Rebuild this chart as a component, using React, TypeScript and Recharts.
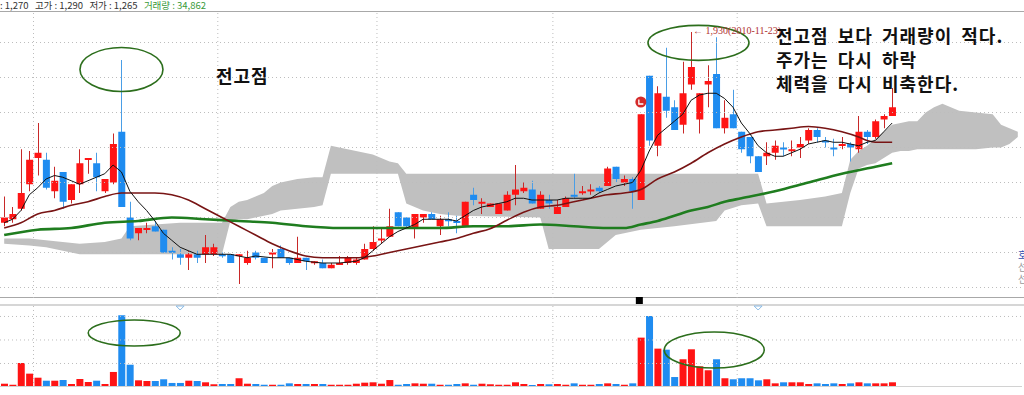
import React from "react";
import {
  ComposedChart,
  Bar,
  Line,
  Area,
  XAxis,
  YAxis,
  ReferenceLine,
  ReferenceDot,
  Cell,
} from "recharts";

// daily candles, index 0..106
const opens = [
  1385, 1395, 1425, 1495, 1570, 1565, 1475, 1530, 1450, 1495, 1565, 1555, 1475, 1500, 1645, 1400, 1355, 1365, 1375, 1365,
  1305, 1295, 1285, 1295, 1295, 1295, 1295, 1295, 1290, 1270, 1300, 1285, 1295, 1310, 1285, 1270, 1285, 1270, 1270, 1255,
  1265, 1270, 1270, 1280, 1310, 1335, 1345, 1415, 1400, 1370, 1400, 1410, 1375, 1395, 1390, 1375, 1465, 1440, 1430, 1410,
  1420, 1465, 1475, 1480, 1425, 1450, 1410, 1430, 1465, 1470, 1475, 1485, 1490, 1545, 1500, 1510, 1450, 1805, 1605, 1745,
  1715, 1665, 1780, 1680, 1780, 1810, 1655, 1695, 1645, 1630, 1575, 1575, 1585, 1600, 1590, 1600, 1620, 1650, 1620, 1600,
  1605, 1610, 1595, 1645, 1630, 1680, 1690,
];
const highs = [
  1460, 1430, 1595, 1590, 1670, 1585, 1545, 1530, 1495, 1595, 1570, 1585, 1510, 1640, 1850, 1445, 1370, 1385, 1390, 1365,
  1315, 1310, 1305, 1305, 1350, 1325, 1300, 1295, 1295, 1305, 1305, 1285, 1310, 1320, 1285, 1345, 1285, 1275, 1280, 1270,
  1290, 1290, 1285, 1325, 1375, 1370, 1425, 1415, 1400, 1410, 1410, 1415, 1405, 1415, 1405, 1445, 1485, 1455, 1440, 1440,
  1475, 1550, 1500, 1505, 1475, 1465, 1450, 1460, 1525, 1490, 1495, 1490, 1545, 1545, 1520, 1515, 1695, 1805, 1775, 1885,
  1735, 1845, 1930, 1755, 1835, 1915, 1735, 1765, 1645, 1630, 1575, 1615, 1620, 1615, 1620, 1630, 1655, 1655, 1630, 1625,
  1630, 1615, 1690, 1650, 1680, 1695, 1770,
];
const lows = [
  1375, 1385, 1420, 1475, 1520, 1480, 1455, 1425, 1440, 1470, 1525, 1475, 1470, 1495, 1430, 1335, 1335, 1355, 1360, 1300,
  1280, 1265, 1250, 1270, 1270, 1290, 1285, 1270, 1210, 1265, 1280, 1270, 1255, 1285, 1265, 1270, 1250, 1265, 1255, 1255,
  1265, 1265, 1265, 1280, 1305, 1325, 1345, 1375, 1370, 1340, 1385, 1395, 1350, 1375, 1355, 1375, 1435, 1410, 1430, 1410,
  1420, 1435, 1470, 1440, 1425, 1425, 1410, 1430, 1455, 1465, 1465, 1470, 1490, 1500, 1490, 1425, 1450, 1605, 1575, 1685,
  1650, 1640, 1765, 1640, 1715, 1655, 1640, 1655, 1585, 1555, 1530, 1550, 1565, 1575, 1575, 1570, 1610, 1615, 1600, 1575,
  1595, 1560, 1585, 1610, 1625, 1655, 1690,
];
const closes = [
  1400, 1410, 1470, 1565, 1585, 1485, 1505, 1445, 1495, 1555, 1570, 1515, 1510, 1610, 1430, 1340, 1370, 1370, 1360, 1300,
  1300, 1285, 1295, 1285, 1315, 1315, 1290, 1270, 1295, 1285, 1285, 1270, 1300, 1285, 1270, 1285, 1275, 1275, 1255, 1265,
  1270, 1285, 1280, 1310, 1330, 1340, 1375, 1375, 1375, 1410, 1410, 1395, 1395, 1390, 1385, 1445, 1450, 1445, 1440, 1440,
  1465, 1480, 1485, 1440, 1465, 1440, 1430, 1455, 1460, 1475, 1480, 1475, 1540, 1510, 1510, 1475, 1695, 1620, 1755, 1705,
  1650, 1755, 1830, 1755, 1790, 1655, 1685, 1655, 1595, 1575, 1530, 1585, 1605, 1595, 1595, 1610, 1650, 1630, 1615, 1595,
  1610, 1600, 1645, 1630, 1675, 1690, 1715,
];
const volumes = [
  35000, 24000, 255000, 142000, 99000, 67000, 67000, 74000, 32000, 85000, 53000, 67000, 32000, 160000, 763000, 237000,
  71000, 64000, 64000, 82000, 43000, 43000, 67000, 64000, 50000, 29000, 32000, 32000, 93000, 35000, 32000, 24000, 24000,
  24000, 39000, 32000, 32000, 32000, 32000, 24000, 24000, 24000, 35000, 46000, 50000, 35000, 74000, 24000, 32000, 39000,
  35000, 35000, 24000, 24000, 32000, 39000, 24000, 35000, 29000, 24000, 24000, 50000, 32000, 21000, 32000, 29000, 32000,
  24000, 39000, 24000, 24000, 32000, 39000, 32000, 24000, 39000, 525000, 755000, 408000, 397000, 106000, 295000, 401000,
  220000, 178000, 295000, 93000, 82000, 93000, 93000, 71000, 82000, 39000, 50000, 50000, 50000, 32000, 39000, 32000, 39000,
  32000, 39000, 50000, 39000, 39000, 39000, 50000,
];

// moving averages: [index, price]
const ma5Points = [
  [0, 1385], [1, 1395], [2, 1420], [3, 1465], [4, 1485], [5, 1510], [6, 1520], [7, 1515], [8, 1505], [9, 1495],
  [10, 1505], [11, 1515], [12, 1525], [13, 1550], [14, 1530], [15, 1475], [16, 1445], [17, 1420], [18, 1390],
  [19, 1355], [20, 1335], [21, 1315], [22, 1305], [23, 1295], [24, 1295], [25, 1295], [26, 1295], [27, 1295],
  [28, 1290], [29, 1285], [30, 1290], [32, 1285], [34, 1285], [36, 1275], [38, 1270], [40, 1270], [42, 1275],
  [43, 1285], [44, 1305], [45, 1325], [46, 1345], [47, 1360], [48, 1370], [49, 1380], [50, 1395], [51, 1395],
  [52, 1395], [53, 1395], [54, 1390], [55, 1405], [56, 1420], [57, 1430], [58, 1435], [59, 1440], [60, 1445],
  [61, 1455], [62, 1455], [63, 1450], [64, 1450], [65, 1450], [66, 1450], [67, 1455], [68, 1455], [69, 1455],
  [70, 1455], [71, 1470], [72, 1480], [73, 1490], [74, 1495], [75, 1500], [76, 1535], [77, 1590], [78, 1635],
  [79, 1655], [80, 1675], [81, 1695], [82, 1735], [83, 1750], [84, 1755], [85, 1755], [86, 1740], [87, 1715],
  [88, 1670], [89, 1640], [90, 1605], [91, 1585], [92, 1575], [93, 1575], [94, 1585], [95, 1595], [96, 1610],
  [97, 1615], [98, 1620], [99, 1615], [100, 1615], [101, 1610], [102, 1605], [103, 1615], [104, 1620], [105, 1645],
  [106, 1670],
];
const ma20Points = [
  [0, 1370], [2, 1385], [4, 1410], [6, 1420], [8, 1435], [10, 1445], [12, 1460], [14, 1470], [16, 1470], [18, 1470],
  [20, 1465], [22, 1450], [24, 1425], [26, 1400], [28, 1375], [30, 1350], [32, 1325], [34, 1305], [36, 1290],
  [38, 1285], [40, 1285], [42, 1285], [44, 1290], [46, 1300], [48, 1310], [50, 1320], [52, 1330], [54, 1340],
  [56, 1355], [58, 1368], [60, 1392], [62, 1415], [64, 1430], [66, 1435], [68, 1445], [70, 1455], [72, 1465],
  [74, 1470], [76, 1480], [78, 1510], [80, 1530], [82, 1555], [84, 1585], [86, 1610], [88, 1630], [90, 1645],
  [92, 1650], [94, 1655], [96, 1660], [98, 1655], [100, 1645], [102, 1630], [103, 1620], [104, 1615], [106, 1615],
];
const ma60Points = [
  [0, 1350], [4, 1365], [8, 1370], [12, 1385], [16, 1390], [20, 1400], [24, 1395], [28, 1390], [32, 1385], [36, 1375],
  [40, 1370], [44, 1370], [48, 1370], [52, 1370], [56, 1375], [60, 1375], [64, 1380], [68, 1375], [72, 1370],
  [74, 1370], [76, 1380], [78, 1390], [80, 1405], [82, 1420], [84, 1430], [86, 1445], [88, 1455], [92, 1475],
  [96, 1500], [100, 1525], [104, 1545], [106, 1555],
];
// ichimoku cloud: [index, upper, lower]
const cloudPoints = [
  [0, 1340, 1325], [3, 1340, 1320], [5, 1335, 1315], [7, 1330, 1305], [9, 1325, 1295], [12, 1330, 1295],
  [14, 1340, 1295], [15, 1375, 1295], [18, 1380, 1295], [21, 1385, 1295], [26, 1385, 1295], [27, 1430, 1390],
  [28, 1445, 1395], [29, 1450, 1395], [30, 1460, 1400], [31, 1470, 1405], [32, 1490, 1410], [33, 1500, 1420],
  [35, 1510, 1425], [37, 1515, 1430], [38, 1515, 1435], [39, 1605, 1525], [40, 1600, 1525], [42, 1590, 1525],
  [44, 1580, 1525], [46, 1560, 1525], [47, 1555, 1525], [48, 1525, 1440], [49, 1525, 1430], [50, 1525, 1420],
  [52, 1525, 1410], [54, 1525, 1405], [64, 1525, 1400], [65, 1525, 1310], [71, 1525, 1310], [72, 1525, 1330],
  [73, 1525, 1350], [74, 1525, 1355], [76, 1525, 1365], [80, 1525, 1375], [85, 1525, 1390], [86, 1525, 1420],
  [88, 1525, 1435], [90, 1525, 1440], [91, 1440, 1375], [95, 1450, 1375], [98, 1460, 1375], [100, 1470, 1375],
  [101, 1565, 1470], [102, 1590, 1540], [103, 1605, 1550], [104, 1625, 1555], [105, 1645, 1570], [106, 1665, 1585],
  [107, 1670, 1590], [108, 1675, 1590], [109, 1675, 1595], [110, 1700, 1595], [111, 1715, 1595], [112, 1725, 1595],
  [113, 1715, 1595], [114, 1705, 1595], [116, 1700, 1595], [118, 1695, 1600], [119, 1665, 1600], [120, 1655, 1610],
  [121, 1645, 1630],
];

const priceTicks = [1200, 1300, 1400, 1500, 1600, 1700, 1800, 1900];
const volumeTicks = [250000, 500000, 750000];
// last trading day of each month (grid line drawn after it)
const monthEnds = [3, 25, 44, 65, 87];
const slotCount = 122;

const UP = "#ff1414";
const DOWN = "#1f8cf0";
const UP_WICK = "#c82828";
const DOWN_WICK = "#4a9ee6";
const GRID = "#bdbdbd";
const ELLIPSE = "#2c6e1c";

const toMap = (pts: number[][]) => new Map(pts.map((p) => [p[0], p[1]]));
const ma5Map = toMap(ma5Points);
const ma20Map = toMap(ma20Points);
const ma60Map = toMap(ma60Points);
const cloudMap = new Map(cloudPoints.map((p) => [p[0], [p[2], p[1]]]));

const table = Array.from({ length: slotCount }, (_, i) => {
  const has = i < opens.length;
  return {
    i,
    o: has ? opens[i] : null,
    h: has ? highs[i] : null,
    l: has ? lows[i] : null,
    c: has ? closes[i] : null,
    range: has ? [lows[i], highs[i]] : null,
    v: has ? volumes[i] : null,
    ma5: ma5Map.get(i) ?? null,
    ma20: ma20Map.get(i) ?? null,
    ma60: ma60Map.get(i) ?? null,
    cloud: cloudMap.get(i) ?? null,
  };
});

const Candle = (props: any) => {
  const { x, y, width, height, payload } = props;
  if (!payload || payload.o == null || !height) return <g />;
  const { o, h, l, c } = payload;
  const up = c >= o;
  const k = height / (h - l);
  const top = y + (h - Math.max(o, c)) * k;
  const bot = y + (h - Math.min(o, c)) * k;
  const cx = Math.floor(x + width / 2) + 0.5;
  return (
    <g>
      <line x1={cx} x2={cx} y1={y} y2={y + height} stroke={up ? UP_WICK : DOWN_WICK} strokeWidth={1} />
      <rect x={x} y={top} width={width} height={Math.max(bot - top, 2)} fill={up ? UP : DOWN} />
    </g>
  );
};

const ellipseShape = (rx: number, ry: number, dx = 0) => (p: any) => (
  <ellipse cx={p.cx + dx} cy={p.cy} rx={rx} ry={ry} fill="none" stroke={ELLIPSE} strokeWidth={1.6} />
);

const gridLines = (ticks: number[]) => [
  ...ticks.map((t) => <ReferenceLine key={`h${t}`} y={t} stroke={GRID} strokeDasharray="1 3" />),
  ...monthEnds.map((m) => (
    <ReferenceLine key={`v${m}`} x={m} position="end" stroke={GRID} strokeDasharray="1 3" />
  )),
];

const koreanText: React.CSSProperties = {
  position: "absolute",
  fontFamily: "'Noto Sans CJK KR', sans-serif",
  fontWeight: 700,
  fontSize: 18,
  color: "#111",
  whiteSpace: "pre",
  wordSpacing: 4,
  letterSpacing: 1,
  lineHeight: "24px",
};

const App = () => {
  return (
    <div
      style={{
        position: "absolute",
        left: 0,
        top: 0,
        width: 1024,
        height: 395,
        overflow: "hidden",
        background: "#fff",
        fontFamily: "'Noto Sans CJK KR', sans-serif",
      }}
    >
      <div
        style={{ position: "absolute", left: 0, top: 0, fontSize: 9.5, lineHeight: "11px", color: "#333", whiteSpace: "pre" }}
      >
        {": 1,270   고가 : 1,290   저가 : 1,265   "}
        <span style={{ color: "#3a9a3a" }}>거래량 : 34,862</span>
      </div>
      <div style={{ position: "absolute", left: 0, top: 11, width: 1024, height: 1, background: "#a8a8a8" }} />
      <div style={{ position: "absolute", left: 0, top: 297, width: 1024, height: 1, background: "#a8a8a8" }} />
      <div style={{ position: "absolute", left: 0, top: 304, width: 1024, height: 2, background: "#d6d6d6" }} />

      <div style={{ position: "absolute", left: 0, top: 11 }}>
        <ComposedChart width={1022} height={287} data={table} margin={{ top: 0, right: 0, bottom: 0, left: 0 }}>
          <XAxis dataKey="i" type="category" hide />
          <YAxis domain={[1170, 1990]} allowDataOverflow hide />
          {gridLines(priceTicks)}
          <Area
            dataKey="cloud"
            type="linear"
            fill="#c0c0c0"
            fillOpacity={1}
            stroke="none"
            connectNulls
            dot={false}
            activeDot={false}
            isAnimationActive={false}
          />
          <Bar dataKey="range" barSize={7} shape={(p: any) => <Candle {...p} />} isAnimationActive={false} />
          <Line dataKey="ma60" type="monotone" stroke="#1f7d1f" strokeWidth={2.6} dot={false} connectNulls isAnimationActive={false} />
          <Line dataKey="ma20" type="monotone" stroke="#781414" strokeWidth={1.6} dot={false} connectNulls isAnimationActive={false} />
          <Line dataKey="ma5" type="linear" stroke="#111" strokeWidth={1} dot={false} connectNulls isAnimationActive={false} />
          <ReferenceDot x={14} y={1823} r={1} shape={ellipseShape(41.5, 22)} />
          <ReferenceDot x={83} y={1899} r={1} shape={ellipseShape(50.5, 17.5, -1)} />
          <ReferenceDot
            x={82}
            y={1930}
            r={1}
            shape={(p: any) => (
              <text x={p.cx + 2} y={p.cy + 2} fontSize={10} fill="#b03030" fontFamily="'Liberation Serif', serif">
                ← 1,930(2010-11-23)
              </text>
            )}
          />
          <ReferenceDot
            x={76}
            y={1730}
            r={1}
            shape={(p: any) => (
              <g>
                <circle cx={p.cx} cy={p.cy} r={5.5} fill="#d42a2a" />
                <path d={`M${p.cx - 2} ${p.cy - 2.5} V${p.cy + 2} H${p.cx + 2.5}`} stroke="#fff" strokeWidth={1.3} fill="none" />
              </g>
            )}
          />
        </ComposedChart>
      </div>

      <div style={{ position: "absolute", left: 0, top: 297 }}>
        <ComposedChart width={1022} height={90} data={table} margin={{ top: 8, right: 0, bottom: 0, left: 0 }}>
          <XAxis dataKey="i" type="category" hide />
          <YAxis domain={[0, 872000]} allowDataOverflow hide />
          {gridLines(volumeTicks)}
          <ReferenceLine y={0} stroke="#d2d2d2" strokeWidth={2} />
          <Bar dataKey="v" barSize={7} isAnimationActive={false}>
            {table.map((d) => (
              <Cell key={d.i} fill={d.c != null && d.o != null && d.c >= d.o ? UP : DOWN} />
            ))}
          </Bar>
          <ReferenceDot x={16} y={574000} r={1} shape={ellipseShape(46, 13, -4)} />
          <ReferenceDot x={85} y={393000} r={1} shape={ellipseShape(50, 18, -2)} />
          <ReferenceDot
            x={76}
            y={872000}
            r={1}
            shape={(p: any) => <rect x={p.cx - 5} y={p.cy - 8} width={7} height={7} fill="#000" />}
          />
          {[21, 90].map((k) => (
            <ReferenceDot
              key={k}
              x={k}
              y={872000}
              r={1}
              shape={(p: any) => (
                <path
                  d={`M${p.cx - 4} ${p.cy + 1} L${p.cx + 4} ${p.cy + 1} L${p.cx} ${p.cy + 5} Z`}
                  fill="#fff"
                  stroke="#8cbce6"
                  strokeWidth={1}
                />
              )}
            />
          ))}
        </ComposedChart>
      </div>

      <div style={{ ...koreanText, left: 216, top: 63 }}>전고점</div>
      <div style={{ ...koreanText, left: 776, top: 23 }}>
        {"전고점 보다 거래량이 적다.\n주가는 다시 하락\n체력을 다시 비축한다."}
      </div>
      <div style={{ position: "absolute", left: 1018, top: 249, fontSize: 10, lineHeight: "12px", color: "#9a9a9a" }}>
        <div style={{ color: "#3050b0" }}>호</div>
        <div>선</div>
        <div>선</div>
      </div>
    </div>
  );
};

export default App;
